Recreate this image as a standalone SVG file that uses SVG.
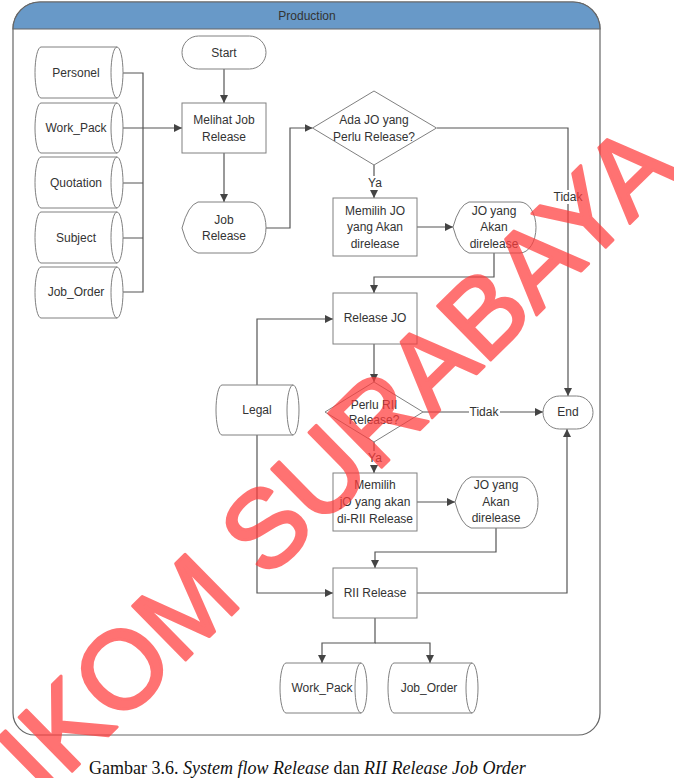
<svg xmlns="http://www.w3.org/2000/svg" width="674" height="778" viewBox="0 0 674 778">
<defs>
<marker id="ah" viewBox="0 0 10 10" refX="10" refY="5" markerWidth="8" markerHeight="8" markerUnits="userSpaceOnUse" orient="auto">
<path d="M0,0 L10,5 L0,10 Z" fill="#444"/>
</marker>
<style>
.sh{fill:#fff;stroke:#808080;stroke-width:1}
.t{font-family:"Liberation Sans",Arial,sans-serif;font-size:12px;fill:#333;text-anchor:middle;dominant-baseline:central}
.c{fill:none;stroke:#555;stroke-width:1.2}
.a{marker-end:url(#ah)}
.lb{fill:#fff}
</style>
</defs>
<rect width="674" height="778" fill="#fff"/>
<g id="pool">
<path d="M13,29 A27,27 0 0 1 40,2 H573 A27,27 0 0 1 600,29 V713 A22,22 0 0 1 578,735 H35 A22,22 0 0 1 13,713 Z" fill="#fff" stroke="#666" stroke-width="1.2"/>
<path d="M13,29 A27,27 0 0 1 40,2 H573 A27,27 0 0 1 600,29 Z" fill="#6899c8" stroke="#666" stroke-width="1.2"/>
<text class="t" x="307" y="16" fill="#1a2530">Production</text>
</g>
<g id="connectors">
<path class="c" d="M118,73H143V292H118M118,183H143M118,238H143"/>
<path class="c a" d="M118,128H182"/>
<path class="c a" d="M224,69V103"/>
<path class="c a" d="M224,153V202"/>
<path class="c a" d="M266,228H290V128H312.5"/>
<path class="c a" d="M374,165V198"/>
<path class="c a" d="M417,227H453"/>
<path class="c a" d="M494,252V277H374V293"/>
<path class="c a" d="M437,128H568V396"/>
<path class="c a" d="M374,344V382"/>
<path class="c a" d="M423,412H543"/>
<path class="c a" d="M374,442V473"/>
<path class="c a" d="M417,502H455"/>
<path class="c a" d="M496,528V552H375V568"/>
<path class="c a" d="M417,593H567V429"/>
<path class="c a" d="M257,385V319H333"/>
<path class="c a" d="M257,435V593H333"/>
<path class="c a" d="M375,618V643H322V663"/>
<path class="c a" d="M375,643H430V663"/>
<rect class="lb" x="366" y="176" width="17" height="14"/>
<text class="t" x="375" y="183">Ya</text>
<rect class="lb" x="553" y="190" width="30" height="14"/>
<text class="t" x="568" y="197">Tidak</text>
<rect class="lb" x="469" y="405" width="31" height="14"/>
<text class="t" x="484" y="412">Tidak</text>
<rect class="lb" x="366" y="451" width="17" height="14"/>
<text class="t" x="375" y="458">Ya</text>
</g>
<g id="personel">
<path class="sh" d="M41,47H117A6,25.5 0 0 1 117,98H41A6,25.5 0 0 1 41,47Z M117,47A6,25.5 0 0 0 117,98"/>
<text class="t" x="76" y="73">Personel</text>
</g>
<g id="work_pack">
<path class="sh" d="M41,103H117A6,25 0 0 1 117,153H41A6,25 0 0 1 41,103Z M117,103A6,25 0 0 0 117,153"/>
<text class="t" x="76" y="128">Work_Pack</text>
</g>
<g id="quotation">
<path class="sh" d="M41,157H117A6,25.5 0 0 1 117,208H41A6,25.5 0 0 1 41,157Z M117,157A6,25.5 0 0 0 117,208"/>
<text class="t" x="76" y="183">Quotation</text>
</g>
<g id="subject">
<path class="sh" d="M41,212H117A6,25.5 0 0 1 117,263H41A6,25.5 0 0 1 41,212Z M117,212A6,25.5 0 0 0 117,263"/>
<text class="t" x="76" y="238">Subject</text>
</g>
<g id="job_order">
<path class="sh" d="M41,267H117A6,25.5 0 0 1 117,318H41A6,25.5 0 0 1 41,267Z M117,267A6,25.5 0 0 0 117,318"/>
<text class="t" x="76" y="292">Job_Order</text>
</g>
<g id="start">
<rect class="sh" x="182" y="36" width="84" height="33" rx="16.5"/>
<text class="t" x="224" y="53">Start</text>
</g>
<g id="melihat">
<rect class="sh" x="182" y="103" width="84" height="50"/>
<text class="t" x="224" y="120">Melihat Job</text>
<text class="t" x="224" y="137">Release</text>
</g>
<g id="job_release">
<path class="sh" d="M182,228Q188,205 198,202H250A16,25.5 0 0 1 250,253H198Q188,251 182,228Z"/>
<text class="t" x="224" y="220">Job</text>
<text class="t" x="224" y="236">Release</text>
</g>
<g id="ada_jo">
<path class="sh" d="M374,91L436.5,128L374,165L312.5,128Z"/>
<text class="t" x="374" y="120">Ada JO yang</text>
<text class="t" x="374" y="137">Perlu Release?</text>
</g>
<g id="memilih_jo">
<rect class="sh" x="333" y="198" width="84" height="58"/>
<text class="t" x="375" y="211">Memilih JO</text>
<text class="t" x="375" y="227">yang Akan</text>
<text class="t" x="375" y="244">direlease</text>
</g>
<g id="jo_akan_1">
<path class="sh" d="M453,227Q459,205 469,202H520A16,25.5 0 0 1 520,253H469Q459,250 453,227Z"/>
<text class="t" x="494" y="211">JO yang</text>
<text class="t" x="494" y="227">Akan</text>
<text class="t" x="494" y="244">direlease</text>
</g>
<g id="release_jo">
<rect class="sh" x="333" y="293" width="84" height="51"/>
<text class="t" x="375" y="318">Release JO</text>
</g>
<g id="legal">
<path class="sh" d="M222,385H293A6,25 0 0 1 293,435H222A6,25 0 0 1 222,385Z M293,385A6,25 0 0 0 293,435"/>
<text class="t" x="257" y="410">Legal</text>
</g>
<g id="perlu_rii">
<path class="sh" d="M374,382L423,412L374,442L325,412Z"/>
<text class="t" x="374" y="405">Perlu RII</text>
<text class="t" x="374" y="420">Release?</text>
</g>
<g id="end">
<rect class="sh" x="543" y="396" width="50" height="33" rx="16.5"/>
<text class="t" x="568" y="412">End</text>
</g>
<g id="memilih_rii">
<rect class="sh" x="333" y="473" width="84" height="58"/>
<text class="t" x="375" y="485">Memilih</text>
<text class="t" x="375" y="502">jO yang akan</text>
<text class="t" x="375" y="519">di-RII Release</text>
</g>
<g id="jo_akan_2">
<path class="sh" d="M455,502Q461,480 471,477H522A16,25.5 0 0 1 522,528H471Q461,525 455,502Z"/>
<text class="t" x="496" y="485">JO yang</text>
<text class="t" x="496" y="502">Akan</text>
<text class="t" x="496" y="518">direlease</text>
</g>
<g id="rii_release">
<rect class="sh" x="333" y="568" width="84" height="50"/>
<text class="t" x="375" y="593">RII Release</text>
</g>
<g id="work_pack_out">
<path class="sh" d="M286,663H361A6,25 0 0 1 361,713H286A6,25 0 0 1 286,663Z M361,663A6,25 0 0 0 361,713"/>
<text class="t" x="322" y="688">Work_Pack</text>
</g>
<g id="job_order_out">
<path class="sh" d="M394,663H472A6,25 0 0 1 472,713H394A6,25 0 0 1 394,663Z M472,663A6,25 0 0 0 472,713"/>
<text class="t" x="429" y="688">Job_Order</text>
</g>
<text x="89" y="774" font-family="'Liberation Serif','Times New Roman',serif" font-size="18" fill="#111">Gambar 3.6. <tspan font-style="italic">System flow Release</tspan> dan <tspan font-style="italic">RII Release Job Order</tspan></text>
<g opacity="0.72">
<text transform="translate(44,799) rotate(-44.5)" font-family="'Liberation Sans',Arial,sans-serif" font-size="110" fill="#ff3c3c" stroke="#ff3c3c" stroke-width="3" stroke-linejoin="round">IKOM SURABAYA</text>
</g>
</svg>
